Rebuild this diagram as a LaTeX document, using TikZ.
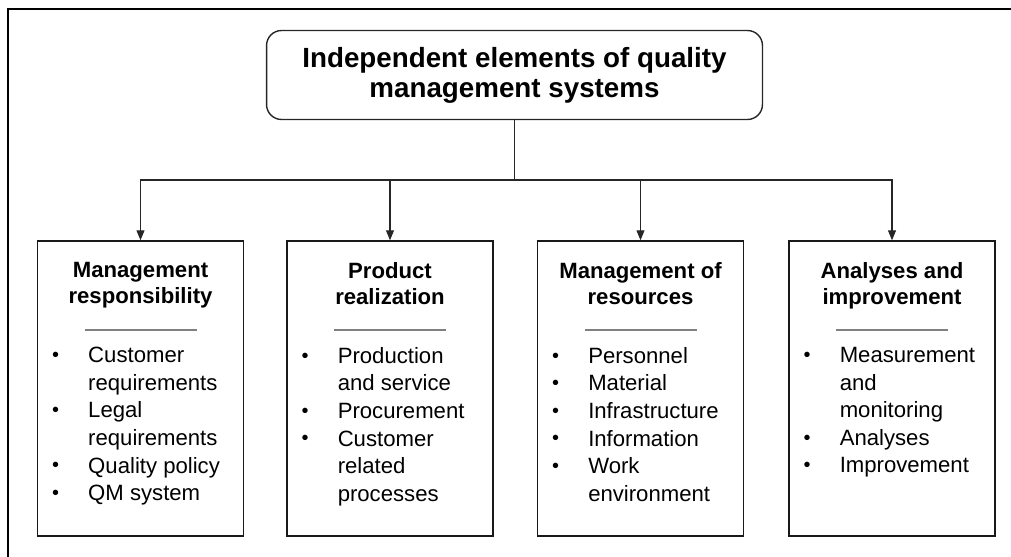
\documentclass[tikz,border=0pt]{standalone}
\usepackage{fontspec}
\setmainfont{Liberation Sans}
\usetikzlibrary{arrows.meta}

\newcommand{\bul}{\makebox[21pt][l]{\hspace{0.5pt}\raisebox{0.06em}{\scalebox{0.9}{\textbullet}}}}
\newcommand{\ind}{\hspace*{21pt}}

\tikzset{
  rootbox/.style={draw=black!85, line width=0.8pt, rounded corners=0.3cm,
    minimum width=9.92cm, minimum height=1.78cm, align=center,
    font=\fontsize{15.8}{17}\selectfont\bfseries},
  areabox/.style={draw=black!90, line width=0.85pt, minimum width=4.12cm, minimum height=5.9cm},
  areahead/.style={anchor=north, inner sep=0pt, align=center,
    font=\fontsize{12.6}{14.7}\selectfont\bfseries},
  arealist/.style={anchor=north west, inner sep=0pt, align=left,
    font=\fontsize{12.6}{15.7}\selectfont},
  sepline/.style={draw=black!50, line width=0.6pt},
  link/.style={draw=black!85, line width=0.6pt},
}

\begin{document}
\begin{tikzpicture}[x=0.02cm, y=-0.02cm, >={Triangle[length=0.2cm, width=0.16cm]}]
  \useasboundingbox (0,0) rectangle (1011,557);
  % frame
  \draw[line width=1.1pt] (8,557) -- (8,9) -- (1011,9);

  \node[rootbox] (root) at (514.5,75) {Independent elements of quality\\management systems};

  % the four areas
  \node[areabox] (resp) at (140.5,388.5) {};
  \node[areabox] (prod) at (390,388.5) {};
  \node[areabox] (res) at (640.5,388.5) {};
  \node[areabox] (impr) at (892,388.5) {};

  \node[areahead] (resph) at (140.5,262) {Management\\responsibility};
  \node[areahead] (prodh) at (390,262) {Product\\realization};
  \node[areahead] (resh) at (640.5,262) {Management of\\resources};
  \node[areahead] (imprh) at (892,262) {Analyses and\\improvement};

  \draw[sepline] (84.5,330) -- (196.5,330);
  \draw[sepline] (334,330) -- (446,330);
  \draw[sepline] (584.5,330) -- (696.5,330);
  \draw[sepline] (836,330) -- (948,330);

  \node[arealist] (respl) at (51,347) {\bul Customer\\ \ind requirements\\ \bul Legal\\ \ind requirements\\ \bul Quality policy\\ \bul QM system};
  \node[arealist] (prodl) at (300.5,347) {\bul Production\\ \ind and service\\ \bul Procurement\\ \bul Customer\\ \ind related\\ \ind processes};
  \node[arealist] (resl) at (551,347) {\bul Personnel\\ \bul Material\\ \bul Infrastructure\\ \bul Information\\ \bul Work\\ \ind environment};
  \node[arealist] (imprl) at (802.5,347) {\bul Measurement\\ \ind and\\ \ind monitoring\\ \bul Analyses\\ \bul Improvement};

  % connectors
  \coordinate (bus) at (514.5,180);
  \draw[link] (root.south) -- (bus);
  \draw[link, ->] (bus) -| (resp.north);
  \draw[link, ->] (bus) -| (prod.north);
  \draw[link, ->] (bus) -| (res.north);
  \draw[link, ->] (bus) -| (impr.north);
\end{tikzpicture}
\end{document}
